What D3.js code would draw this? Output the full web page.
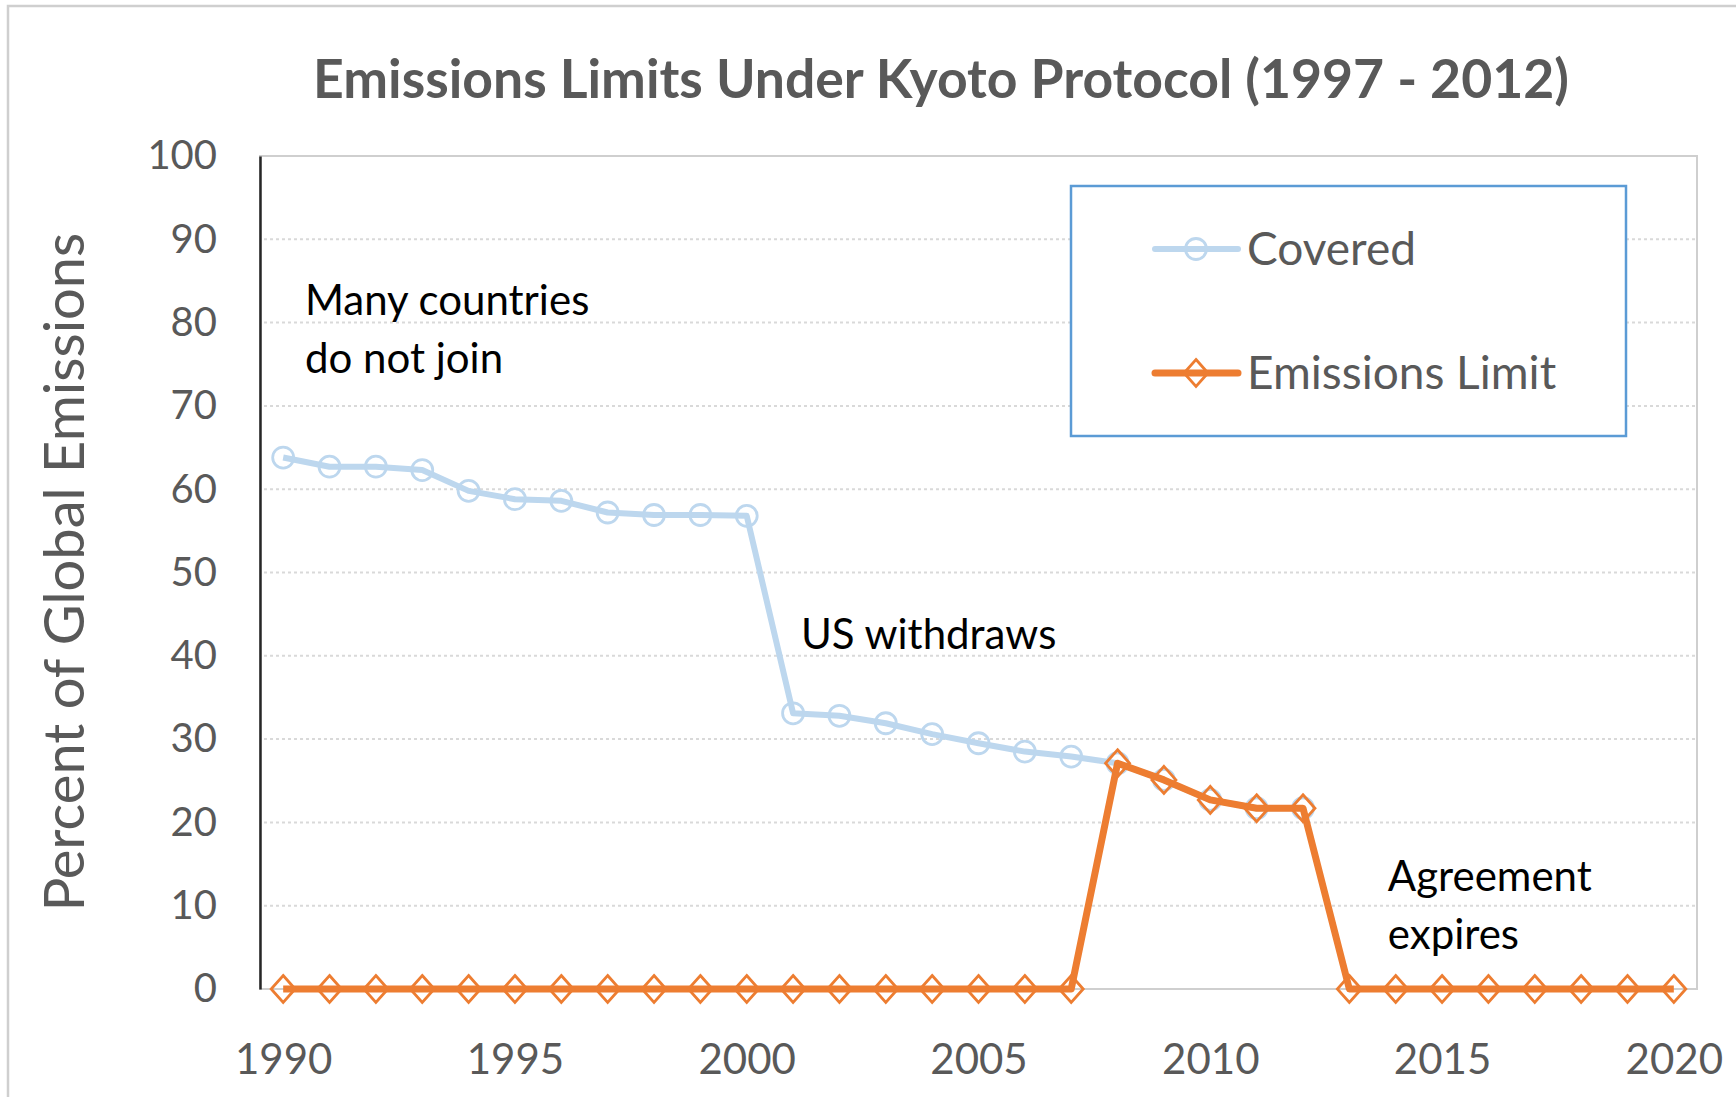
<!DOCTYPE html>
<html>
<head>
<meta charset="utf-8">
<script src="https://cdn.jsdelivr.net/npm/d3@7"></script>
<style>
  body { margin: 0; background: #fff; }
  text { font-family: Lato, "Open Sans", sans-serif; }
</style>
</head>
<body>
<script>
(function() {

  /* chart data */
  var years = [1990, 1991, 1992, 1993, 1994, 1995, 1996, 1997, 1998, 1999,
               2000, 2001, 2002, 2003, 2004, 2005, 2006, 2007, 2008, 2009,
               2010, 2011, 2012, 2013, 2014, 2015, 2016, 2017, 2018, 2019, 2020];

  // share of global emissions covered (ends in 2012)
  var covered = [63.8, 62.7, 62.7, 62.3, 59.8, 58.8, 58.6, 57.2, 56.9, 56.9,
                 56.8, 33.1, 32.8, 31.9, 30.6, 29.5, 28.5, 27.9, 27.1, 25.1,
                 22.7, 21.7, 21.7];

  // emissions under a binding limit
  var emissionsLimit = [0, 0, 0, 0, 0, 0, 0, 0, 0, 0,
                        0, 0, 0, 0, 0, 0, 0, 0, 27.1, 25.1,
                        22.7, 21.7, 21.7, 0, 0, 0, 0, 0, 0, 0, 0];

  var yTicks = [0, 10, 20, 30, 40, 50, 60, 70, 80, 90, 100];
  var xTicks = [1990, 1995, 2000, 2005, 2010, 2015, 2020];

  var seriesNames = ["Covered", "Emissions Limit"];

  var title = "Emissions Limits Under Kyoto Protocol (1997 - 2012)";
  var yTitle = "Percent of Global Emissions";

  var notes = [
    {lines: ["Many countries", "do not join"], year: 1990.47, value: 80.9},
    {lines: ["US withdraws"], year: 2001.17, value: 40.8},
    {lines: ["Agreement", "expires"], year: 2013.83, value: 11.8}
  ];

  /* look */
  var W = 1736, H = 1097;
  var blue = "#bdd7ee", orange = "#ed7d31", grey = "#595959";

  var x = d3.scaleLinear().domain([1989.5, 2020.5]).range([260, 1697]);
  var y = d3.scaleLinear().domain([0, 100]).range([989, 156]);

  var svg = d3.select("body").append("svg")
      .attr("width", W)
      .attr("height", H);

  svg.append("rect")
      .attr("width", W).attr("height", H)
      .attr("fill", "#fff");

  // outer chart border (runs off the picture on right and bottom)
  svg.append("rect")
      .attr("x", 8).attr("y", 6)
      .attr("width", W + 20).attr("height", H + 20)
      .attr("fill", "none")
      .attr("stroke", "#cfcfcf")
      .attr("stroke-width", 2.5);

  // title
  svg.append("text")
      .attr("x", 941).attr("y", 98)
      .attr("text-anchor", "middle")
      .attr("font-size", 53.5)
      .attr("font-weight", "bold")
      .attr("fill", grey)
      .text(title);

  // gridlines
  svg.append("g").selectAll("line")
      .data(yTicks.filter(function(d) { return d > 0 && d < 100; }))
    .enter().append("line")
      .attr("x1", x.range()[0] + 4).attr("x2", x.range()[1])
      .attr("y1", function(d) { return y(d); })
      .attr("y2", function(d) { return y(d); })
      .attr("stroke", "#d9d9d9")
      .attr("stroke-width", 2)
      .attr("stroke-dasharray", "3,3");

  // plot frame
  svg.append("rect")
      .attr("x", x.range()[0]).attr("y", y(100))
      .attr("width", x.range()[1] - x.range()[0])
      .attr("height", y(0) - y(100))
      .attr("fill", "none")
      .attr("stroke", "#cfcfcf")
      .attr("stroke-width", 2);

  // y axis
  var yAxis = svg.append("g")
      .attr("transform", "translate(" + x.range()[0] + ",0)")
      .call(d3.axisLeft(y).tickValues(yTicks).tickSize(0).tickPadding(43));
  yAxis.select(".domain").attr("stroke", "#262626").attr("stroke-width", 2.5);
  yAxis.selectAll("text")
      .attr("font-size", 40)
      .attr("font-family", "Lato, sans-serif")
      .attr("fill", grey);

  // x axis
  var xAxis = svg.append("g")
      .attr("transform", "translate(0," + y(0) + ")")
      .call(d3.axisBottom(x).tickValues(xTicks).tickSize(0).tickPadding(55)
        .tickFormat(d3.format("d")));
  xAxis.select(".domain").remove();
  xAxis.selectAll("text")
      .attr("font-size", 42)
      .attr("font-family", "Lato, sans-serif")
      .attr("fill", grey);

  // y axis title
  svg.append("text")
      .attr("transform", "translate(84,572)rotate(-90)")
      .attr("text-anchor", "middle")
      .attr("font-size", 56)
      .attr("fill", grey)
      .text(yTitle);

  /* series */
  var line = d3.line()
      .x(function(d) { return x(d.year); })
      .y(function(d) { return y(d.value); });

  var coveredPts = covered.map(function(v, i) { return {year: years[i], value: v}; });
  var limitPts = emissionsLimit.map(function(v, i) { return {year: years[i], value: v}; });

  function diamond(g, cx, cy) {
    g.append("path")
        .attr("d", "M" + cx + "," + (cy - 13.5) + "L" + (cx + 12) + "," + cy +
                   "L" + cx + "," + (cy + 13.5) + "L" + (cx - 12) + "," + cy + "Z")
        .attr("fill", "none")
        .attr("stroke", orange)
        .attr("stroke-width", 2.8);
  }

  var gCov = svg.append("g");
  gCov.append("path")
      .datum(coveredPts)
      .attr("d", line)
      .attr("fill", "none")
      .attr("stroke", blue)
      .attr("stroke-width", 6)
      .attr("stroke-linejoin", "round");
  gCov.selectAll("circle")
      .data(coveredPts)
    .enter().append("circle")
      .attr("cx", function(d) { return x(d.year); })
      .attr("cy", function(d) { return y(d.value); })
      .attr("r", 10.5)
      .attr("fill", "none")
      .attr("stroke", blue)
      .attr("stroke-width", 2.8);

  var gLim = svg.append("g");
  gLim.append("path")
      .datum(limitPts)
      .attr("d", line)
      .attr("fill", "none")
      .attr("stroke", orange)
      .attr("stroke-width", 7)
      .attr("stroke-linejoin", "round");
  limitPts.forEach(function(d) { diamond(gLim, x(d.year), y(d.value)); });

  /* annotations */
  notes.forEach(function(n) {
    var t = svg.append("text")
        .attr("x", x(n.year))
        .attr("y", y(n.value))
        .attr("font-size", 42)
        .attr("fill", "#000");
    n.lines.forEach(function(s, i) {
      t.append("tspan")
          .attr("x", x(n.year))
          .attr("dy", i === 0 ? 0 : 58)
          .text(s);
    });
  });

  /* legend */
  var leg = svg.append("g");
  leg.append("rect")
      .attr("x", 1071).attr("y", 186)
      .attr("width", 555).attr("height", 250)
      .attr("fill", "#fff")
      .attr("stroke", "#5b9bd5")
      .attr("stroke-width", 2.5);

  var legRows = [249, 373];
  seriesNames.forEach(function(name, i) {
    var ly = legRows[i];
    leg.append("line")
        .attr("x1", 1155).attr("x2", 1238)
        .attr("y1", ly).attr("y2", ly)
        .attr("stroke", i === 0 ? blue : orange)
        .attr("stroke-width", i === 0 ? 6 : 7)
        .attr("stroke-linecap", "round");
    if (i === 0) {
      leg.append("circle")
          .attr("cx", 1196).attr("cy", ly).attr("r", 10.5)
          .attr("fill", "none").attr("stroke", blue).attr("stroke-width", 2.8);
    } else {
      diamond(leg, 1196, ly);
    }
    leg.append("text")
        .attr("x", 1247).attr("y", ly + 16)
        .attr("font-size", 46)
        .attr("fill", grey)
        .text(name);
  });

})();
</script>
</body>
</html>
